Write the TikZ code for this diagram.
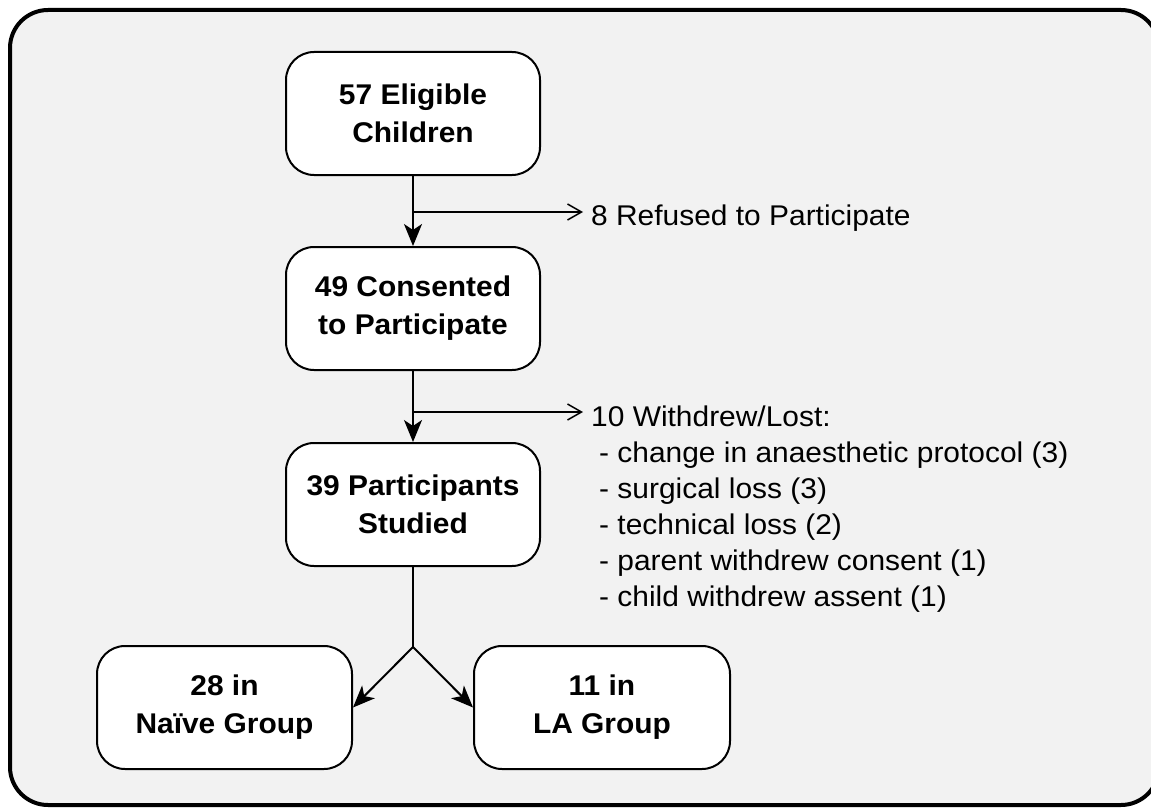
\documentclass[tikz,border=0pt]{standalone}
\usepackage{fontspec}
\setmainfont{Liberation Sans}
\newfontfamily\diagfont[FakeStretch=1.05]{Liberation Sans}
\usetikzlibrary{arrows.meta,calc}
\definecolor{panelgray}{HTML}{F2F2F2}

\begin{document}
\begin{tikzpicture}[x=1pt,y=-1pt,
  stagebox/.style={draw, line width=2pt, rounded corners=28pt, fill=white,
    minimum width=254pt, minimum height=123pt, inner sep=0pt, align=center,
    font=\diagfont\bfseries\fontsize{28.5}{38}\selectfont},
  flow/.style={line width=2pt, -{Stealth[length=22pt,width=18pt,inset=6pt]}},
  split/.style={line width=2pt},
  side/.style={line width=2pt, -{Straight Barb[length=14pt,width=16pt,line width=1.5pt]}},
  note/.style={inner sep=0pt, anchor=base west,
    font=\diagfont\fontsize{28.5}{36}\selectfont}]

  % page and outer panel
  \useasboundingbox (0,0) rectangle (1151,808);
  \clip (0,0) rectangle (1151,808);
  \draw[line width=4pt, fill=panelgray, rounded corners=38pt] (10,10) rectangle (1159,805);

  % stages of the study
  \node[stagebox] (elig)    at (413,113.5) {57 Eligible\\Children};
  \node[stagebox] (consent) at (413,308.5) {49 Consented\\to Participate};
  \node[stagebox] (studied) at (413,504.5) {39 Participants\\Studied};
  \node[stagebox, minimum width=255pt] (naive) at (224.5,707.5) {28 in\\Na\"ive Group};
  \node[stagebox, minimum width=256pt] (la)    at (602,707.5)   {11 in\\LA Group};

  % main flow
  \draw[flow] (elig) -- (consent);
  \draw[flow] (consent) -- (studied);
  \coordinate (fork) at (413,647);
  \draw[split] (studied) -- (fork);
  \draw[flow] (fork) -- (naive.east);
  \draw[flow] (fork) -- (la.west);

  % exclusions
  \coordinate (ref) at (413,212);
  \coordinate (wd)  at (413,412);
  \node[note] (refused)  at (591,225) {8 Refused to Participate};
  \node[note] (withdrew) at (591,426) {10 Withdrew/Lost:};
  \node[note] (why1) at (599,462) {- change in anaesthetic protocol (3)};
  \node[note] (why2) at (599,498) {- surgical loss (3)};
  \node[note] (why3) at (599,534) {- technical loss (2)};
  \node[note] (why4) at (599,570) {- parent withdrew consent (1)};
  \node[note] (why5) at (599,606) {- child withdrew assent (1)};
  \draw[side] (ref) -- ([xshift=-8pt]ref -| refused.west);
  \draw[side] (wd) -- ([xshift=-8pt]wd -| withdrew.west);
\end{tikzpicture}
\end{document}
